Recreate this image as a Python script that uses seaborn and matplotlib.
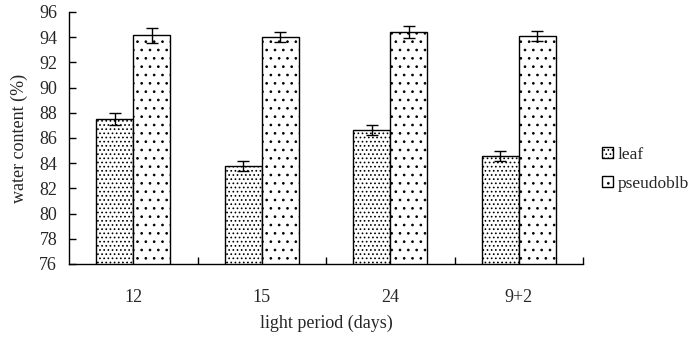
import matplotlib
matplotlib.use("Agg")
import matplotlib.pyplot as plt
import seaborn as sns
import pandas as pd
from matplotlib.patches import Patch

categories = ["12", "15", "24", "9+2"]
series_names = ["leaf", "pseudoblb"]
leaf = [87.5, 83.8, 86.6, 84.6]
leaf_err = [0.5, 0.4, 0.4, 0.4]
pseudo = [94.15, 94.0, 94.4, 94.1]
pseudo_err = [0.6, 0.4, 0.5, 0.4]
yticks = [76, 78, 80, 82, 84, 86, 88, 90, 92, 94, 96]

sns.set_style("white")
plt.rcParams['font.family'] = ['Liberation Serif', 'DejaVu Serif']
plt.rcParams['hatch.linewidth'] = 0.7
plt.rcParams['hatch.color'] = '#222222'

FS = 13

df = pd.DataFrame({
    "period": categories * 2,
    "series": [series_names[0]] * 4 + [series_names[1]] * 4,
    "value": leaf + pseudo,
})

fig = plt.figure(figsize=(6.9, 3.38), dpi=100)
ax = fig.add_axes([0.1, 0.219, 0.745, 0.7455])

sns.barplot(data=df, x="period", y="value", hue="series", order=categories,
            hue_order=series_names, errorbar=None, width=0.574,
            palette=["white", "white"], edgecolor="black", linewidth=1.0,
            saturation=1, legend=False, ax=ax)

hatch_styles = ["....", ".."]
errs = [leaf_err, pseudo_err]
vals = [leaf, pseudo]
bar_containers = list(ax.containers)
for i, cont in enumerate(bar_containers):
    xs = []
    for p in cont.patches:
        p.set_hatch(hatch_styles[i])
        p.set_facecolor("white")
        p.set_edgecolor("black")
        xs.append(p.get_x() + p.get_width() / 2)
    ax.errorbar(xs, vals[i], yerr=errs[i], fmt="none", ecolor="black",
                elinewidth=1.0, capsize=4, capthick=1.0, zorder=5)

ax.set_ylim(76, 96)
ax.set_xlim(-0.5, 3.5)
ax.set_yticks(yticks)
ax.set_yticklabels([str(t) for t in yticks], fontsize=FS)
ax.set_xticks(range(len(categories)))
ax.set_xticklabels(categories, fontsize=FS)
ax.set_xticks([0.5, 1.5, 2.5, 3.5], minor=True)
ax.tick_params(axis="x", which="major", length=0, pad=18)
ax.tick_params(axis="x", which="minor", direction="in", length=5, width=1, color="black", bottom=True)
ax.tick_params(axis="y", direction="in", length=5, width=1, color="black", left=True, pad=8.5)

for s in ["top", "right"]:
    ax.spines[s].set_visible(False)
for s in ["left", "bottom"]:
    ax.spines[s].set_color("black")
    ax.spines[s].set_linewidth(1.0)

ax.set_xlabel("light period (days)", fontsize=FS, labelpad=6)
ax.set_ylabel("water content (%)", fontsize=FS, labelpad=8)

handles = [Patch(facecolor="white", edgecolor="black", hatch=hatch_styles[0]),
           Patch(facecolor="white", edgecolor="black", hatch=hatch_styles[1])]
fig.legend(handles, series_names, loc="upper left", bbox_to_anchor=(0.873, 0.566),
           frameon=False, fontsize=12.5, handlelength=0.6, handleheight=0.6,
           handletextpad=0.3, labelspacing=0.75, borderaxespad=0, borderpad=0)

fig.savefig("out.png", dpi=100)
